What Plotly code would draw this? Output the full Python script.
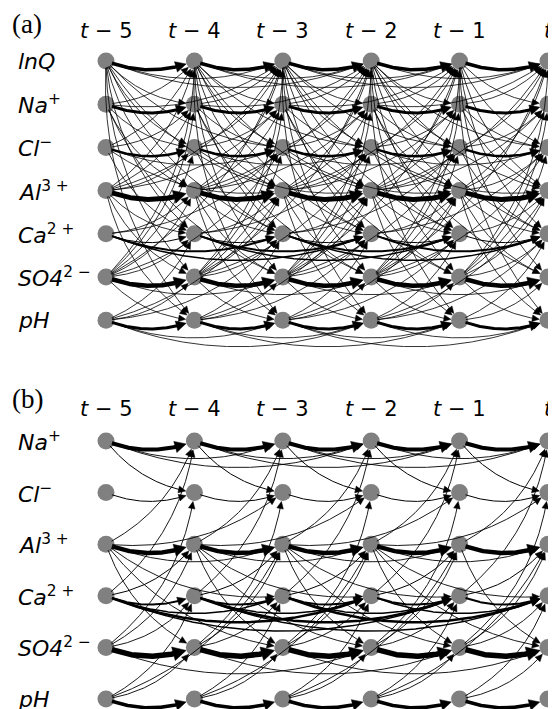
import numpy as np
import plotly.graph_objects as go

# ---------------- data ----------------
time_labels = ["<i>t</i> − 5", "<i>t</i> − 4", "<i>t</i> − 3",
               "<i>t</i> − 2", "<i>t</i> − 1", "<i>t</i>"]

vars_a = ["lnQ", "Na", "Cl", "Al", "Ca", "SO4", "pH"]
labels_a = ["<i>lnQ</i>", "<i>Na</i><sup>+</sup>", "<i>Cl</i><sup>−</sup>",
            "<i>Al</i><sup>3 +</sup>", "<i>Ca</i><sup>2 +</sup>",
            "<i>SO4</i><sup>2 −</sup>", "<i>pH</i>"]

vars_b = ["Na", "Cl", "Al", "Ca", "SO4", "pH"]
labels_b = labels_a[1:]

# (source, target, lag, weight)
edges_a = [
    ("lnQ", "lnQ", 1, 3.5), ("lnQ", "lnQ", 2, 0.8), ("lnQ", "lnQ", 3, 0.8),
    ("lnQ", "Na", 1, 0.8), ("lnQ", "Cl", 1, 0.8), ("lnQ", "Al", 1, 0.8),
    ("lnQ", "Ca", 1, 0.8), ("lnQ", "SO4", 1, 0.8), ("lnQ", "pH", 1, 0.8),
    ("lnQ", "Cl", 2, 0.8), ("lnQ", "Al", 2, 0.8), ("lnQ", "Ca", 2, 0.8),
    ("Na", "Na", 1, 3.0), ("Na", "lnQ", 1, 0.8), ("Na", "Cl", 1, 0.8),
    ("Na", "Al", 1, 0.8), ("Na", "SO4", 2, 0.8), ("Na", "lnQ", 2, 0.8),
    ("Cl", "Cl", 1, 2.5), ("Cl", "lnQ", 1, 0.8), ("Cl", "Na", 1, 0.8),
    ("Cl", "Ca", 1, 0.8), ("Cl", "Al", 2, 0.8), ("Cl", "Cl", 2, 0.8),
    ("Al", "Al", 1, 5.0), ("Al", "lnQ", 1, 0.8), ("Al", "Na", 1, 0.8),
    ("Al", "Cl", 1, 0.8), ("Al", "Ca", 1, 0.8), ("Al", "SO4", 1, 0.8),
    ("Al", "pH", 1, 0.8), ("Al", "lnQ", 2, 0.8), ("Al", "Na", 2, 0.8),
    ("Ca", "Ca", 1, 1.0), ("Ca", "Ca", 2, 2.0), ("Ca", "Ca", 3, 1.5),
    ("Ca", "Al", 1, 0.8), ("Ca", "Cl", 2, 0.8),
    ("SO4", "SO4", 1, 4.5), ("SO4", "lnQ", 1, 0.8), ("SO4", "Na", 1, 0.8),
    ("SO4", "Cl", 1, 0.8), ("SO4", "Al", 1, 0.8), ("SO4", "Ca", 1, 0.8),
    ("SO4", "pH", 1, 0.8), ("SO4", "lnQ", 2, 0.8), ("SO4", "Cl", 2, 0.8),
    ("SO4", "SO4", 2, 0.8),
    ("pH", "pH", 1, 3.0), ("pH", "pH", 2, 0.8), ("pH", "pH", 3, 0.8),
    ("pH", "SO4", 1, 0.8), ("pH", "Ca", 1, 0.8), ("pH", "Al", 2, 0.8),
    ("pH", "Ca", 2, 0.8),
]

edges_b = [
    ("Na", "Na", 1, 4.0), ("Na", "Na", 2, 0.9), ("Na", "Na", 3, 0.9),
    ("Na", "Cl", 1, 1.0),
    ("Cl", "Cl", 1, 1.0),
    ("Al", "Al", 1, 4.5), ("Al", "Al", 2, 0.9), ("Al", "Cl", 2, 0.9),
    ("Al", "Na", 1, 0.9), ("Al", "SO4", 1, 0.9), ("Al", "Ca", 2, 0.9),
    ("Al", "SO4", 2, 0.9),
    ("Ca", "Ca", 1, 2.0), ("Ca", "Ca", 2, 1.5), ("Ca", "Ca", 3, 2.5),
    ("Ca", "Ca", 4, 1.5), ("Ca", "Al", 1, 1.0), ("Ca", "Na", 1, 0.9),
    ("SO4", "SO4", 1, 5.5), ("SO4", "SO4", 3, 0.9), ("SO4", "Al", 1, 0.9),
    ("SO4", "Ca", 1, 0.9), ("SO4", "Cl", 1, 0.9),
    ("pH", "pH", 1, 3.5), ("pH", "SO4", 1, 0.9), ("pH", "Ca", 1, 0.9),
    ("pH", "Al", 2, 0.9),
]

# ---------------- layout constants ----------------
PAGE_W, PAGE_H = 556, 709
OFF = 8  # default page body margin
COL_X0, COL_DX = 106.0, 88.4
A_Y0, A_DY = 61.0, 43.2
B_Y0, B_DY = 441.0, 51.6
RAD = 0.2
NODE_R = 8.5
N_T = len(time_labels)


def col_x(i):
    return COL_X0 + COL_DX * i


def curve(p1, p2, w):
    (x1, y1), (x2, y2) = p1, p2
    mx, my = (x1 + x2) / 2, (y1 + y2) / 2
    cx = mx - RAD * (y2 - y1)
    cy = my + RAD * (x2 - x1)
    t = np.linspace(0, 1, 300)
    bx = (1 - t) ** 2 * x1 + 2 * (1 - t) * t * cx + t ** 2 * x2
    by = (1 - t) ** 2 * y1 + 2 * (1 - t) * t * cy + t ** 2 * y2
    d1 = np.hypot(bx - x1, by - y1)
    d2 = np.hypot(bx - x2, by - y2)
    keep = (d1 >= 6.0) & (d2 >= NODE_R)
    bx, by = bx[keep], by[keep]
    tipx, tipy = bx[-1], by[-1]
    L = 6.0 + 1.3 * w
    Hw = 2.6 + 0.8 * w
    dt = np.hypot(bx - tipx, by - tipy)
    idx = np.where(dt >= L)[0]
    j = idx[-1] if len(idx) else 0
    ux, uy = tipx - bx[j], tipy - by[j]
    n = np.hypot(ux, uy) or 1.0
    ux, uy = ux / n, uy / n
    basex, basey = tipx - L * ux, tipy - L * uy
    lx = list(bx[: j + 1]) + [basex + 0.5 * ux]
    ly = list(by[: j + 1]) + [basey + 0.5 * uy]
    px, py = -uy, ux
    head_x = [tipx, basex + Hw * px, basex - Hw * px, tipx]
    head_y = [tipy, basey + Hw * py, basey - Hw * py, tipy]
    return lx, ly, head_x, head_y


fig = go.Figure()


def add_panel(var_names, row_labels, edges, y0, dy, tag, header_y, tag_y):
    row_y = {v: y0 + dy * k for k, v in enumerate(var_names)}
    nx_, ny_ = [], []
    for v in var_names:
        for i in range(N_T):
            nx_.append(col_x(i))
            ny_.append(row_y[v])
    fig.add_trace(go.Scatter(x=nx_, y=ny_, mode="markers",
                             marker=dict(size=17, color="#808080"),
                             hoverinfo="skip", showlegend=False))
    groups = {}
    hx, hy = [], []
    for s, d, lag, w in edges:
        for i in range(N_T - lag):
            p1 = (col_x(i), row_y[s])
            p2 = (col_x(i + lag), row_y[d])
            lx, ly, ax_, ay_ = curve(p1, p2, w)
            gx, gy = groups.setdefault(w, ([], []))
            gx.extend(lx + [None])
            gy.extend(ly + [None])
            hx.extend(ax_ + [None])
            hy.extend(ay_ + [None])
    for w, (gx, gy) in sorted(groups.items()):
        fig.add_trace(go.Scatter(x=gx, y=gy, mode="lines",
                                 line=dict(color="black", width=w),
                                 hoverinfo="skip", showlegend=False))
    fig.add_trace(go.Scatter(x=hx, y=hy, mode="lines", fill="toself",
                             fillcolor="black", line=dict(color="black", width=0.5),
                             hoverinfo="skip", showlegend=False))
    for i, lab in enumerate(time_labels):
        fig.add_annotation(x=col_x(i), y=header_y, text=lab, showarrow=False,
                           xanchor="center", yanchor="middle",
                           font=dict(family="DejaVu Sans", size=21, color="black"))
    for v, lab in zip(var_names, row_labels):
        fig.add_annotation(x=16, y=row_y[v], text=lab, showarrow=False,
                           xanchor="left", yanchor="middle",
                           font=dict(family="DejaVu Sans", size=22, color="black"))
    fig.add_annotation(x=10, y=tag_y, text=tag, showarrow=False,
                       xanchor="left", yanchor="middle",
                       font=dict(family="Liberation Serif", size=27, color="black"))


add_panel(vars_a, labels_a, edges_a, A_Y0, A_DY, "(a)", 31, 24)
add_panel(vars_b, labels_b, edges_b, B_Y0, B_DY, "(b)", 409, 399)

fig.update_layout(
    width=PAGE_W - OFF, height=PAGE_H - OFF, margin=dict(l=0, r=0, t=0, b=0),
    paper_bgcolor="white", plot_bgcolor="white",
    xaxis=dict(range=[OFF, PAGE_W], visible=False, fixedrange=True),
    yaxis=dict(range=[PAGE_H, OFF], visible=False, fixedrange=True),
    showlegend=False,
)
fig.write_html("out.html")
